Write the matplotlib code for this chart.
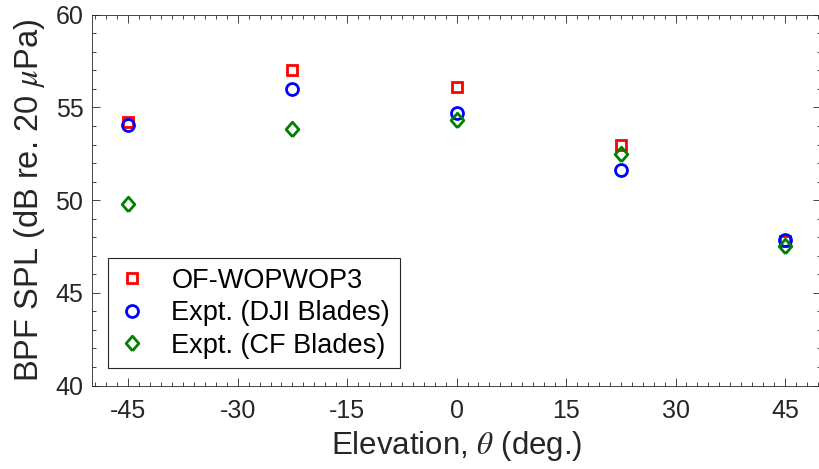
import matplotlib.pyplot as plt
from matplotlib.ticker import MultipleLocator

plt.rcParams['font.family'] = ['Liberation Sans', 'DejaVu Sans']
plt.rcParams['mathtext.fontset'] = 'stix'
plt.rcParams['axes.unicode_minus'] = False

elevation = [-45, -22.5, 0, 22.5, 45]
spl_wopwop = [54.2, 57.0, 56.1, 53.0, 47.8]
spl_dji = [54.05, 56.0, 54.7, 51.6, 47.85]
spl_cf = [49.8, 53.85, 54.3, 52.5, 47.5]

txt = '#262626'
diamond = [(0, -1), (0.87, 0), (0, 1), (-0.87, 0), (0, -1)]

fig = plt.figure(figsize=(8.19, 4.69), dpi=100)
ax = fig.add_axes([0.112, 0.178, 0.891, 0.7906])

ax.plot(elevation, spl_wopwop, ls='none', marker='s', ms=7.2, mew=2.0,
        mfc='none', mec='#ff0000', label='OF-WOPWOP3')
ax.plot(elevation, spl_dji, ls='none', marker='o', ms=8.6, mew=2.0,
        mfc='none', mec='#0000ff', label='Expt. (DJI Blades)')
ax.plot(elevation, spl_cf, ls='none', marker=diamond, ms=10.5, mew=2.0,
        mfc='none', mec='#008000', label='Expt. (CF Blades)')

ax.set_xlim(-50, 50)
ax.set_ylim(40, 60)
ax.xaxis.set_major_locator(MultipleLocator(15))
ax.xaxis.set_minor_locator(MultipleLocator(1.5))
ax.yaxis.set_major_locator(MultipleLocator(5))
ax.yaxis.set_minor_locator(MultipleLocator(1))
ax.tick_params(which='both', direction='in', top=True, right=True,
               colors=txt, labelsize=18, width=0.6)
ax.tick_params(which='major', length=6)
ax.tick_params(which='minor', length=3)
ax.tick_params(axis='x', pad=10)
ax.tick_params(axis='y', pad=6)
for s in ax.spines.values():
    s.set_color(txt)
    s.set_linewidth(0.6)

ax.set_xlabel(r'Elevation, $\it{\theta}$ (deg.)', fontsize=22.5, color=txt)
ax.set_ylabel(r'BPF SPL (dB re. 20 $\it{\mu}$Pa)', fontsize=23.5, color=txt,
              labelpad=6)

leg = ax.legend(loc='lower left', bbox_to_anchor=(0.022, 0.047),
                borderaxespad=0, fontsize=19.5, fancybox=False, framealpha=1,
                edgecolor=txt, handlelength=1.1, handletextpad=0.9,
                labelspacing=0.24, borderpad=0.35)
leg.get_frame().set_linewidth(0.8)

fig.savefig('out.png', dpi=100)
